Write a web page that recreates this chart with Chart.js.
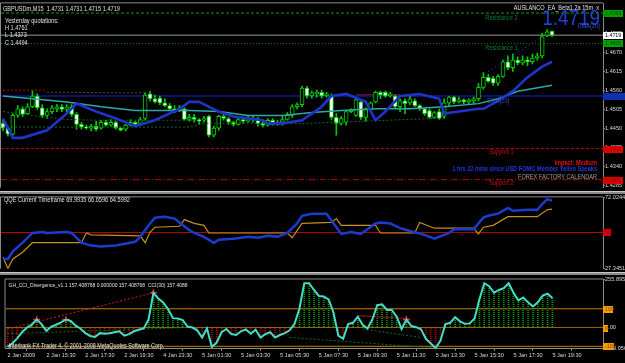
<!DOCTYPE html>
<html>
<head>
<meta charset="utf-8">
<title>GBPUSDm,M15</title>
<script src="https://cdn.jsdelivr.net/npm/chart.js@4.4.1/dist/chart.umd.min.js"></script>
<style>
  html, body { margin: 0; padding: 0; background: #000; overflow: hidden; }
  #wrap { position: relative; width: 625px; height: 363px; background: #000; }
  #wrap canvas { position: absolute; left: 0; }
  .sep { position: absolute; left: 0; width: 625px; height: 3px; background: #8a8a8a; border-top: 1px solid #c8c8c8; box-sizing: border-box; }
</style>
</head>
<body>
<div id="wrap">
  <div class="sep" style="top:191px"></div>
  <div class="sep" style="top:272px"></div>
  <canvas id="priceChart" width="625" height="191" style="top:0"></canvas>
  <canvas id="qqeChart" width="625" height="78" style="top:194px"></canvas>
  <canvas id="cciChart" width="625" height="89" style="top:274px"></canvas>
</div>
<script>
'use strict';

// time axis labels, one every 8 bars (15 min bars)
var timeLabels = ['2 Jan 2009', '2 Jan 15:30', '2 Jan 17:30', '2 Jan 19:30', '4 Jan 23:30',
    '5 Jan 01:30', '5 Jan 03:30', '5 Jan 05:30', '5 Jan 07:30', '5 Jan 09:30',
    '5 Jan 11:30', '5 Jan 13:30', '5 Jan 15:30', '5 Jan 17:30', '5 Jan 19:30'];
var barStep = 8;

// GBPUSD M15 candles
var open = [1.4464, 1.4450, 1.4433, 1.4487, 1.4506, 1.4492, 1.4512, 1.4543, 1.4509, 1.4487,
    1.4498, 1.4506, 1.4512, 1.4504, 1.4512, 1.4490, 1.4461, 1.4453, 1.4450, 1.4456,
    1.4450, 1.4467, 1.4459, 1.4467, 1.4450, 1.4447, 1.4459, 1.4467, 1.4464, 1.4478,
    1.4549, 1.4535, 1.4537, 1.4523, 1.4515, 1.4506, 1.4501, 1.4506, 1.4475, 1.4481,
    1.4475, 1.4473, 1.4484, 1.4430, 1.4450, 1.4484, 1.4478, 1.4467, 1.4461, 1.4475,
    1.4470, 1.4478, 1.4473, 1.4464, 1.4459, 1.4473, 1.4461, 1.4467, 1.4475, 1.4487,
    1.4512, 1.4518, 1.4566, 1.4543, 1.4549, 1.4554, 1.4543, 1.4543, 1.4481, 1.4464,
    1.4467, 1.4498, 1.4487, 1.4526, 1.4481, 1.4504, 1.4526, 1.4554, 1.4554, 1.4543,
    1.4543, 1.4512, 1.4529, 1.4523, 1.4529, 1.4515, 1.4506, 1.4501, 1.4481, 1.4498,
    1.4484, 1.4523, 1.4540, 1.4526, 1.4532, 1.4526, 1.4529, 1.4535, 1.4568, 1.4597,
    1.4594, 1.4580, 1.4600, 1.4642, 1.4625, 1.4647, 1.4639, 1.4647, 1.4642, 1.4653,
    1.4659, 1.4718, 1.4731];
var high = [1.4473, 1.4456, 1.4492, 1.4515, 1.4512, 1.4521, 1.4557, 1.4549, 1.4518, 1.4506,
    1.4515, 1.4518, 1.4518, 1.4518, 1.4518, 1.4495, 1.4467, 1.4459, 1.4461, 1.4470,
    1.4473, 1.4473, 1.4475, 1.4470, 1.4453, 1.4461, 1.4475, 1.4470, 1.4481, 1.4552,
    1.4557, 1.4546, 1.4543, 1.4535, 1.4521, 1.4515, 1.4515, 1.4509, 1.4490, 1.4490,
    1.4478, 1.4484, 1.4487, 1.4456, 1.4487, 1.4490, 1.4481, 1.4470, 1.4481, 1.4481,
    1.4484, 1.4484, 1.4481, 1.4470, 1.4478, 1.4478, 1.4473, 1.4484, 1.4495, 1.4518,
    1.4523, 1.4571, 1.4571, 1.4557, 1.4560, 1.4560, 1.4554, 1.4549, 1.4492, 1.4484,
    1.4501, 1.4506, 1.4535, 1.4529, 1.4509, 1.4526, 1.4557, 1.4557, 1.4557, 1.4554,
    1.4546, 1.4535, 1.4535, 1.4543, 1.4535, 1.4518, 1.4509, 1.4506, 1.4498, 1.4506,
    1.4535, 1.4543, 1.4543, 1.4540, 1.4535, 1.4535, 1.4540, 1.4580, 1.4611, 1.4605,
    1.4600, 1.4605, 1.4647, 1.4659, 1.4664, 1.4656, 1.4659, 1.4656, 1.4664, 1.4667,
    1.4724, 1.4735, 1.4731];
var low = [1.4442, 1.4427, 1.4430, 1.4481, 1.4484, 1.4490, 1.4509, 1.4504, 1.4481, 1.4478,
    1.4492, 1.4498, 1.4498, 1.4495, 1.4484, 1.4447, 1.4447, 1.4447, 1.4442, 1.4442,
    1.4447, 1.4456, 1.4456, 1.4447, 1.4442, 1.4442, 1.4456, 1.4459, 1.4461, 1.4473,
    1.4529, 1.4523, 1.4518, 1.4512, 1.4504, 1.4495, 1.4498, 1.4473, 1.4470, 1.4467,
    1.4461, 1.4467, 1.4425, 1.4425, 1.4444, 1.4473, 1.4461, 1.4456, 1.4459, 1.4464,
    1.4467, 1.4467, 1.4456, 1.4453, 1.4456, 1.4459, 1.4459, 1.4459, 1.4473, 1.4481,
    1.4506, 1.4512, 1.4537, 1.4537, 1.4540, 1.4537, 1.4540, 1.4475, 1.4430, 1.4459,
    1.4459, 1.4495, 1.4484, 1.4475, 1.4470, 1.4504, 1.4523, 1.4535, 1.4540, 1.4540,
    1.4509, 1.4498, 1.4492, 1.4518, 1.4512, 1.4501, 1.4487, 1.4478, 1.4478, 1.4475,
    1.4478, 1.4515, 1.4521, 1.4523, 1.4521, 1.4521, 1.4521, 1.4529, 1.4563, 1.4583,
    1.4574, 1.4574, 1.4597, 1.4619, 1.4614, 1.4633, 1.4633, 1.4631, 1.4636, 1.4647,
    1.4653, 1.4715, 1.4715];
var close = [1.4450, 1.4433, 1.4487, 1.4506, 1.4490, 1.4512, 1.4543, 1.4509, 1.4487, 1.4498,
    1.4509, 1.4512, 1.4504, 1.4512, 1.4490, 1.4461, 1.4453, 1.4450, 1.4456, 1.4447,
    1.4467, 1.4459, 1.4467, 1.4450, 1.4444, 1.4459, 1.4467, 1.4461, 1.4475, 1.4546,
    1.4535, 1.4526, 1.4523, 1.4515, 1.4506, 1.4501, 1.4509, 1.4475, 1.4481, 1.4475,
    1.4470, 1.4478, 1.4430, 1.4450, 1.4484, 1.4478, 1.4467, 1.4461, 1.4475, 1.4470,
    1.4478, 1.4473, 1.4464, 1.4459, 1.4473, 1.4461, 1.4467, 1.4475, 1.4487, 1.4512,
    1.4518, 1.4566, 1.4543, 1.4552, 1.4554, 1.4543, 1.4549, 1.4481, 1.4464, 1.4478,
    1.4498, 1.4504, 1.4532, 1.4481, 1.4504, 1.4523, 1.4554, 1.4546, 1.4543, 1.4549,
    1.4512, 1.4529, 1.4521, 1.4535, 1.4515, 1.4506, 1.4492, 1.4481, 1.4495, 1.4478,
    1.4523, 1.4540, 1.4526, 1.4532, 1.4526, 1.4532, 1.4535, 1.4568, 1.4597, 1.4585,
    1.4580, 1.4600, 1.4642, 1.4625, 1.4647, 1.4639, 1.4647, 1.4642, 1.4653, 1.4659,
    1.4715, 1.4729, 1.4719];

// indicator lines on the price pane, [bar, price]
var emaBlue = [[0, 1.4478], [2, 1.4422], [4, 1.4422], [9, 1.4444], [13, 1.4492], [15, 1.4521],
    [19, 1.4498], [23, 1.4478], [27, 1.4456], [31, 1.4473], [36, 1.4506], [38, 1.4526],
    [40, 1.4526], [44, 1.4498], [47, 1.4484], [53, 1.4473], [54, 1.4464], [57, 1.4464],
    [61, 1.4473], [63, 1.4492], [65, 1.4512], [67, 1.4543], [70, 1.4549], [74, 1.4526],
    [76, 1.4473], [78, 1.4498], [81, 1.4543], [85, 1.4549], [89, 1.4535], [90, 1.4492],
    [93, 1.4498], [97, 1.4506], [98, 1.4506], [101, 1.4529], [104, 1.4557], [107, 1.4597],
    [110, 1.4628], [112, 1.4642]];
var maTeal = [[0, 1.4543], [6, 1.4535], [13, 1.4526], [20, 1.4512], [27, 1.4501], [34, 1.4501],
    [38, 1.4501], [44, 1.4498], [50, 1.4487], [57, 1.4487], [63, 1.4495], [69, 1.4501],
    [76, 1.4506], [83, 1.4506], [90, 1.4512], [97, 1.4521], [101, 1.4535], [105, 1.4557],
    [112, 1.4574]];
var maDotA = [[0, 1.4498], [6, 1.4487], [13, 1.4475], [20, 1.4473], [40, 1.4473]];
var maDotB = [[0, 1.4453], [38, 1.4453], [41, 1.4464], [62, 1.4464], [88, 1.4478]];
var pivotDotA = [[0, 1.4560], [9, 1.4560]];
var pivotDotB = [[9, 1.4554], [29, 1.4552]];
var redSegment = [[72, 1.4546], [81, 1.4546]];
var trendBlue = [[99, 1.4614], [110, 1.4715]];
var bidPrice = 1.4719;
var navyLevel = 1.4543;
var resistance = [1.4783, 1.4695];
var support = [1.4391, 1.4301];
var priceTicks = [1.4285, 1.4340, 1.4395, 1.4450, 1.4505, 1.4560, 1.4615, 1.4670, 1.4725, 1.4780];

// QQE pane, [bar, value]
var qqeBlue = [[0, 33.4], [1, 33.4], [2, 38.2], [4, 43.6], [6, 49.7], [8, 50.3], [9, 49.7],
    [13, 50.3], [14, 49.7], [16, 43.6], [18, 41.8], [20, 41.2], [23, 41.8], [27, 44.2],
    [28, 47.3], [30, 55.7], [31, 59.3], [33, 59.9], [35, 58.7], [36, 56.3], [38, 51.5],
    [39, 49.7], [40, 48.5], [41, 47.3], [43, 43.6], [44, 45.4], [47, 46.1], [50, 47.3],
    [52, 46.7], [54, 47.9], [56, 47.3], [58, 49.7], [60, 55.7], [61, 60.5], [63, 61.8],
    [66, 61.8], [69, 49.1], [71, 50.3], [73, 49.1], [76, 55.7], [77, 56.3], [79, 55.7],
    [81, 52.7], [83, 50.9], [86, 48.5], [88, 46.1], [91, 49.7], [92, 52.1], [96, 52.1],
    [98, 59.3], [99, 60.5], [101, 61.8], [103, 65.4], [104, 63.6], [107, 64.2], [109, 64.2],
    [110, 67.8], [111, 70.8], [112, 69.99]];
var qqeGold = [[0, 34.6], [1, 27.35], [2, 33.4], [4, 37.6], [6, 43.6], [16, 43.6], [17, 49.7],
    [18, 48.5], [28, 47.9], [29, 43.6], [30, 50.3], [31, 53.3], [36, 53.9], [37, 58.1],
    [39, 55.7], [41, 54.5], [42, 49.7], [58, 49.7], [59, 46.7], [61, 55.7], [67, 56.3],
    [68, 58.7], [69, 54.5], [76, 54.5], [77, 49.7], [84, 49.7], [85, 56.3], [88, 52.7],
    [96, 52.7], [97, 49.1], [98, 53.3], [100, 54.5], [103, 59.9], [109, 59.9], [111, 64.2],
    [112, 64.6]];
var qqeMin = 27.3451, qqeMax = 72.0244, qqeLevel = 50;

// CCI(30) per bar
var cci = [-104, -84, -58, -25, 0, 15, 43, 18, -18, 5,
    15, 28, 43, 35, 10, -5, -30, -45, -50, -30,
    -33, -30, -25, -20, -43, -35, -20, -12, -5, 43,
    185, 155, 134, 99, 50, 48, 40, 5, 0, -15,
    -53, -5, -104, -80, -25, -8, -35, -40, -20, -10,
    -33, -12, -53, -35, -25, -53, -40, -30, -15, 20,
    100, 236, 236, 200, 168, 165, 150, 80, -43, -60,
    18, 25, 58, 15, -5, 43, 119, 124, 94, 94,
    58, -8, 43, 8, 2, -10, -60, -85, -109.06, -70,
    18, 25, 55, 33, 20, 22, 48, 150, 236, 220,
    185, 200, 210, 236, 185, 145, 160, 134, 112, 134,
    170, 180, 157.41];
var cciMin = -109.056, cciMax = 255.895;
var cciLevels = [100, 0, -100];
var divPeaks = [[6, 43], [12, 43], [30, 185], [82, 43]];
var divRed = [[0, -8], [30, 185]];
var divDarkRed = [[72, 63], [82, 48]];
var divGreenA = [[0, -33], [37, 0]];
var divGreenB = [[58, -53], [88, -109]];
var divGreenC = [[73, -8], [85, -53]];

// ---- drawing ----
var xMin = -0.41, xMax = 122.4;
var bars = close.map(function (c, i) { return i; });
var GREEN = '#00cc00';
var TXT = '#e0e0e0';
var SX = 0.86; // text in the source is slightly narrow
var FONT = '"Liberation Sans", Arial, sans-serif';

Chart.defaults.animation = false;
Chart.defaults.responsive = false;
Chart.defaults.plugins.legend.display = false;
Chart.defaults.plugins.tooltip.enabled = false;
Chart.defaults.font.family = FONT;
Chart.defaults.font.size = 5.6;
Chart.defaults.color = '#d8d8d8';

function f(px, bold) { return (bold ? 'bold ' : '') + px + 'px ' + FONT; }

function txt(ctx, s, x, y, color, font, align, sx) {
    ctx.save();
    ctx.translate(x, y);
    ctx.scale(sx || SX, 1);
    ctx.font = font;
    ctx.fillStyle = color;
    ctx.textAlign = align || 'left';
    ctx.textBaseline = 'middle';
    ctx.fillText(s, 0, 0);
    ctx.restore();
}

function valueBox(ctx, chart, v, bg, fg, label, w) {
    var y = Math.round(chart.scales.y.getPixelForValue(v));
    var x0 = chart.chartArea.right;
    ctx.fillStyle = bg;
    ctx.fillRect(x0, y - 3, w, 7);
    if (label) { txt(ctx, label, x0 + 2, y + 0.5, fg, f(6.2), 'left'); }
}

function frame(ctx, a) {
    ctx.strokeStyle = '#8a8a8a';
    ctx.lineWidth = 1;
    ctx.beginPath();
    ctx.moveTo(a.left - 0.5, a.bottom);
    ctx.lineTo(a.left - 0.5, a.top - 0.5);
    ctx.lineTo(a.right, a.top - 0.5);
    ctx.stroke();
}

function lineDs(pts, color, width, dash, order) {
    return {
        type: 'line',
        data: pts.map(function (p) { return { x: p[0], y: p[1] }; }),
        borderColor: color, borderWidth: width, borderDash: dash || [],
        pointRadius: 0, fill: false, tension: 0, order: order || 0
    };
}

function hLine(v, color, width, dash, order) {
    return lineDs([[xMin, v], [xMax, v]], color, width, dash, order);
}

function rightAxis(min, max, ticks, fmt) {
    return {
        position: 'right', min: min, max: max,
        afterBuildTicks: function (s) { s.ticks = ticks.map(function (v) { return { value: v }; }); },
        afterFit: function (s) { s.width = 22; },
        ticks: { autoSkip: false, padding: 0, callback: fmt },
        grid: { drawOnChartArea: false, color: '#8a8a8a', tickLength: 2 },
        border: { color: '#8a8a8a' }
    };
}

function hiddenX() {
    return { type: 'linear', min: xMin, max: xMax, display: false, offset: false };
}

// price pane
var priceOverlay = {
    id: 'priceOverlay',
    afterDraw: function (chart) {
        var ctx = chart.ctx, a = chart.chartArea, x = chart.scales.x, y = chart.scales.y;
        ctx.save();
        frame(ctx, a);
        txt(ctx, 'GBPUSDm,M15  1.4731 1.4731 1.4715 1.4719', a.left + 2, a.top + 6, TXT, f(6.5));
        txt(ctx, 'Yesterday quotations:', a.left + 4, a.top + 18, TXT, f(6.5));
        txt(ctx, 'H 1.4761', a.left + 4, a.top + 25, TXT, f(6.5));
        txt(ctx, 'L 1.4373', a.left + 4, a.top + 32, TXT, f(6.5));
        txt(ctx, 'C 1.4494', a.left + 4, a.top + 40, TXT, f(6.5));

        txt(ctx, 'AUSLANCO_EA_Beta1.2a 15m  x', a.right - 4, a.top + 5, TXT, f(6.5), 'right');
        txt(ctx, '1.4719', a.right - 3, a.top + 16, '#2040d0', f(22), 'right');
        txt(ctx, 'EMA(20)', a.right - 3, a.top + 23, '#3050e0', f(6.5), 'right');

        txt(ctx, 'Resistance 2', x.getPixelForValue(98.4), y.getPixelForValue(resistance[0]) + 5, '#0a7a3a', f(6.5));
        txt(ctx, 'Resistance 1', x.getPixelForValue(98.4), y.getPixelForValue(resistance[1]) + 5, '#0a7a3a', f(6.5));
        txt(ctx, 'Support 1', x.getPixelForValue(99.2), y.getPixelForValue(support[0]) + 4, '#d01010', f(6.5));
        txt(ctx, 'Support 2', x.getPixelForValue(99.2), y.getPixelForValue(support[1]) + 4, '#d01010', f(6.5));
        txt(ctx, 'EMA(20)', x.getPixelForValue(98.8), y.getPixelForValue(1.4529), '#3050d0', f(6.5));

        txt(ctx, 'Impact: Medium', a.right - 6, a.bottom - 24, '#e01010', f(6.5, true), 'right');
        txt(ctx, '1 hrs 22 mins since USD FOMC Member Yellen Speaks', a.right - 6, a.bottom - 18, '#1a3ad8', f(6.5, true), 'right');
        txt(ctx, 'FOREX FACTORY CALENDAR', a.right - 6, a.bottom - 10, '#9a9a9a', f(6.5), 'right');

        valueBox(ctx, chart, resistance[0], '#00a000', '#005000', '1.4783', 20);
        valueBox(ctx, chart, bidPrice, '#ffffff', '#000000', '1.4719', 20);
        valueBox(ctx, chart, resistance[1], '#00a000', '#005000', '1.4695', 20);
        valueBox(ctx, chart, navyLevel, '#1030b0', '#1030b0', '', 22);
        valueBox(ctx, chart, support[0], '#e00000', '#900000', '1.4391', 20);
        valueBox(ctx, chart, support[1], '#e00000', '#900000', '1.4301', 20);
        ctx.restore();
    }
};

new Chart(document.getElementById('priceChart'), {
    type: 'bar',
    data: {
        datasets: [
            lineDs(emaBlue, '#1f35c8', 2.6, null, 0),
            lineDs(maTeal, '#2fa8a8', 1.5, null, 0),
            lineDs(maDotA, '#007020', 1, [2, 2], 0),
            lineDs(maDotB, '#007020', 1, [2, 2], 0),
            lineDs(trendBlue, '#2040ff', 1, [1, 3], 0),
            {
                type: 'bar',
                data: bars.map(function (i) { return { x: i, y: [open[i], close[i]] }; }),
                backgroundColor: bars.map(function (i) { return close[i] < open[i] ? '#ffffff' : '#000000'; }),
                borderColor: GREEN, borderWidth: 1, borderSkipped: false,
                barThickness: 4, grouped: false, order: 1
            },
            {
                type: 'bar',
                data: bars.map(function (i) { return { x: i, y: [low[i], high[i]] }; }),
                backgroundColor: GREEN, barThickness: 1, grouped: false, order: 2
            },
            hLine(navyLevel, '#0a1a90', 1.5, null, 3),
            hLine(bidPrice, '#9a9a9a', 1, null, 3),
            hLine(resistance[0], '#00a000', 1, [3, 2], 3),
            hLine(resistance[1], '#007a00', 1, [1, 2], 3),
            hLine(support[0], '#c00000', 1, [3, 2], 3),
            hLine(support[1], '#c00000', 1, [6, 2, 1, 2], 3),
            lineDs(pivotDotA, '#c00000', 1, [2, 2], 3),
            lineDs(pivotDotB, '#8a3a10', 1, [2, 2], 3),
            lineDs(redSegment, '#8a1010', 1.5, null, 3)
        ]
    },
    options: {
        layout: { padding: { left: 1, top: 2, right: 0, bottom: 0 } },
        scales: {
            x: hiddenX(),
            y: rightAxis(1.4278, 1.4811, priceTicks, function (v) { return v.toFixed(4); })
        }
    },
    plugins: [priceOverlay]
});

// QQE pane
var qqeOverlay = {
    id: 'qqeOverlay',
    afterDraw: function (chart) {
        var ctx = chart.ctx, a = chart.chartArea;
        ctx.save();
        frame(ctx, a);
        txt(ctx, 'QQE Current Timeframe 69.9935 66.6596 64.5992', a.left + 3, a.top + 3, TXT, f(6.5));
        valueBox(ctx, chart, qqeLevel, '#e00000', '#900000', '50', 8);
        ctx.restore();
    }
};

new Chart(document.getElementById('qqeChart'), {
    type: 'line',
    data: {
        datasets: [
            lineDs(qqeBlue, '#1a3cd0', 2.5, null, 0),
            lineDs(qqeGold, '#c09020', 1.2, null, 1),
            hLine(qqeLevel, '#c00000', 1, null, 2)
        ]
    },
    options: {
        layout: { padding: { left: 1, top: 2, right: 0, bottom: 2 } },
        scales: {
            x: hiddenX(),
            y: rightAxis(qqeMin, qqeMax, [qqeMin, qqeMax], function (v) { return v.toFixed(4); })
        }
    },
    plugins: [qqeOverlay]
});

// CCI pane
var cciCanvas = document.getElementById('cciChart');
function dotted(color) {
    var c = document.createElement('canvas');
    c.width = 1; c.height = 2;
    var g = c.getContext('2d');
    g.fillStyle = color;
    g.fillRect(0, 0, 1, 1);
    return cciCanvas.getContext('2d').createPattern(c, 'repeat');
}
var greenDots = dotted('#00a000');
var redDots = dotted('#c00000');

var cciOverlay = {
    id: 'cciOverlay',
    afterDraw: function (chart) {
        var ctx = chart.ctx, a = chart.chartArea;
        ctx.save();
        frame(ctx, a);
        txt(ctx, 'GH_CCI_Divergence_v1.1 157.408768 0.000000 157.408768  CCI(30) 157.4088', a.left + 3, a.top + 6, TXT, f(5.8));
        txt(ctx, 'Interbank FX Trader 4, \u00a9 2001-2008 MetaQuotes Software Corp.', a.left + 3, a.bottom - 2, TXT, f(6.3));
        valueBox(ctx, chart, cciLevels[0], '#f0a000', '#804000', '100', 10);
        valueBox(ctx, chart, cciLevels[1], '#f0a000', '#804000', '0', 5);
        valueBox(ctx, chart, cciLevels[2], '#f0a000', '#804000', '-100', 11);
        ctx.restore();
    }
};

var cciX = hiddenX();
cciX.display = true;
cciX.afterBuildTicks = function (s) {
    s.ticks = timeLabels.map(function (t, k) { return { value: k * barStep }; });
};
cciX.afterFit = function (s) { s.height = 15; };
cciX.ticks = {
    autoSkip: false, maxRotation: 0, align: 'start', padding: 1,
    callback: function (v) { return timeLabels[Math.round(v / barStep)]; }
};
cciX.grid = { drawOnChartArea: false, color: '#8a8a8a', tickLength: 3 };
cciX.border = { color: '#8a8a8a' };

new Chart(cciCanvas, {
    type: 'bar',
    data: {
        datasets: [
            lineDs(cci.map(function (v, i) { return [i, v]; }), '#40e0c8', 2, null, 0),
            {
                type: 'scatter',
                data: divPeaks.map(function (p) { return { x: p[0], y: p[1] }; }),
                pointStyle: 'cross', pointRadius: 3.5, pointBorderWidth: 1.5,
                borderColor: '#ff2020', backgroundColor: '#ff2020', order: 0
            },
            lineDs(divRed, '#d02020', 1, [2, 2], 1),
            lineDs(divDarkRed, '#901010', 1.2, null, 1),
            lineDs(divGreenA, '#007020', 1, [2, 2], 1),
            lineDs(divGreenB, '#007020', 1, [2, 2], 1),
            lineDs(divGreenC, '#007020', 1, [2, 2], 1),
            {
                type: 'bar',
                data: bars.map(function (i) { return { x: i, y: cci[i] }; }),
                backgroundColor: bars.map(function (i) { return cci[i] >= 0 ? greenDots : redDots; }),
                barThickness: 1, grouped: false, order: 2
            },
            hLine(cciLevels[0], '#c08000', 1, null, 3),
            hLine(cciLevels[1], '#a06000', 1, null, 3),
            hLine(cciLevels[2], '#c08000', 1, null, 3)
        ]
    },
    options: {
        layout: { padding: { left: 1, top: 2, right: 0, bottom: 0 } },
        scales: {
            x: cciX,
            y: rightAxis(cciMin, cciMax, [cciMin, 0, cciMax], function (v) {
                return v === 0 ? '0.00' : String(v);
            })
        }
    },
    plugins: [cciOverlay]
});
</script>
</body>
</html>
